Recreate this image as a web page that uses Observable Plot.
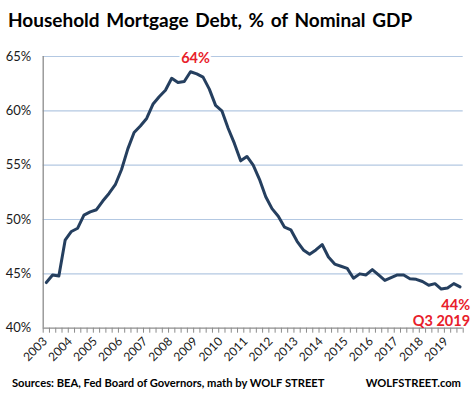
<!DOCTYPE html>
<html><head><meta charset="utf-8">
<script src="https://cdn.jsdelivr.net/npm/d3@7"></script>
<script src="https://cdn.jsdelivr.net/npm/@observablehq/plot@0.6"></script>
<style>
body{margin:0;background:#fff;font-family:Lato,"Open Sans",sans-serif;}
#wrap{width:472px;height:398px;position:relative;overflow:hidden;background:#fff;}
#title{position:absolute;left:8px;top:8px;font-size:19px;font-weight:bold;color:#000;white-space:nowrap;word-spacing:2px;}
#chart{position:absolute;left:0;top:40px;}
.foot{position:absolute;top:376px;font-size:11.2px;font-weight:bold;color:#000;white-space:nowrap;}
</style></head>
<body>
<div id="wrap">
  <div id="title">Household Mortgage Debt, % of Nominal GDP</div>
  <div id="chart"></div>
  <div class="foot" style="left:12px">Sources: BEA, Fed Board of Governors, math by WOLF STREET</div>
  <div class="foot" style="right:11px">WOLFSTREET.com</div>
</div>
<script>
// Quarterly values, 2003 Q1 .. 2019 Q3 (% of nominal GDP)
const debtPct = [
  44.2, 44.9, 44.8, 48.1,   // 2003
  48.9, 49.2, 50.4, 50.7,   // 2004
  50.9, 51.7, 52.4, 53.2,   // 2005
  54.6, 56.5, 58.0, 58.6,   // 2006
  59.3, 60.6, 61.3, 61.9,   // 2007
  63.0, 62.6, 62.7, 63.6,   // 2008
  63.4, 63.1, 62.0, 60.5,   // 2009
  60.0, 58.4, 57.0, 55.4,   // 2010
  55.8, 55.0, 53.7, 52.1,   // 2011
  51.0, 50.3, 49.3, 49.05,  // 2012
  48.0, 47.2, 46.8, 47.2,   // 2013
  47.7, 46.55, 45.9, 45.7,  // 2014
  45.5, 44.6, 45.0, 44.9,   // 2015
  45.4, 44.9, 44.4, 44.65,  // 2016
  44.9, 44.9, 44.55, 44.5,  // 2017
  44.3, 43.95, 44.1, 43.6,  // 2018
  43.7, 44.1, 43.8          // 2019
];
const years = [2003,2004,2005,2006,2007,2008,2009,2010,2011,2012,2013,2014,2015,2016,2017,2018,2019];
const yTicks = [40, 45, 50, 55, 60, 65];
const peakLabel = "64%";
const lastLabel = "44%";
const lastPeriod = "Q3 2019";

const rows = debtPct.map((v, i) => ({i, v}));
const n = rows.length;
const peakIdx = d3.maxIndex(debtPct);
const edges = d3.range(n + 1).map(k => k - 0.5);
const yearRows = years.map(y => ({y, i: (y - years[0]) * 4}));

const red = "#e8202a";
const navy = "#253f5f";
const grid = "#b3c8e2";
const axisGray = "#8c8c8c";
const txt = "#1a1a1a";

const chart = Plot.plot({
  width: 472,
  height: 332,
  marginTop: 16,
  marginBottom: 44.3,
  marginLeft: 42.7,
  marginRight: 9.3,
  style: {fontFamily: "Lato, 'Open Sans', sans-serif", background: "#fff", overflow: "visible"},
  x: {domain: [-0.5, n - 0.5], axis: null},
  y: {domain: [40, 65], axis: null},
  marks: [
    Plot.ruleY(yTicks.filter(t => t > 40), {stroke: grid, strokeWidth: 1.2}),
    Plot.axisY(yTicks, {tickSize: 0, tickPadding: 12, tickFormat: d => d + "%", fontSize: 13, fill: txt, label: null}),
    Plot.axisX(edges, {tickSize: 5, tickFormat: () => "", stroke: axisGray, label: null}),
    Plot.ruleX([-0.5], {stroke: axisGray, strokeWidth: 1.3}),
    Plot.ruleY([40], {stroke: axisGray, strokeWidth: 1.3}),
    Plot.text(yearRows, {x: "i", frameAnchor: "bottom", text: d => String(d.y), rotate: -45, textAnchor: "end", dx: 1.5, dy: 14, fontSize: 12, fill: txt}),
    Plot.line(rows, {x: "i", y: "v", stroke: navy, strokeWidth: 3, strokeLinejoin: "round", strokeLinecap: "round"}),
    Plot.text([rows[peakIdx]], {x: "i", y: "v", text: () => peakLabel, dx: 5, dy: -13, fill: red, stroke: "white", strokeWidth: 6, paintOrder: "stroke", fontWeight: "bold", fontSize: 14.5}),
    Plot.text([rows[n - 1]], {x: "i", y: "v", text: () => lastLabel, dx: 10, dy: 18, textAnchor: "end", fill: red, fontWeight: "bold", fontSize: 14.5}),
    Plot.text([rows[n - 1]], {x: "i", y: "v", text: () => lastPeriod, dx: 10, dy: 34, textAnchor: "end", fill: red, fontWeight: "bold", fontSize: 14.5})
  ]
});
document.getElementById("chart").appendChild(chart);
</script>
</body></html>
